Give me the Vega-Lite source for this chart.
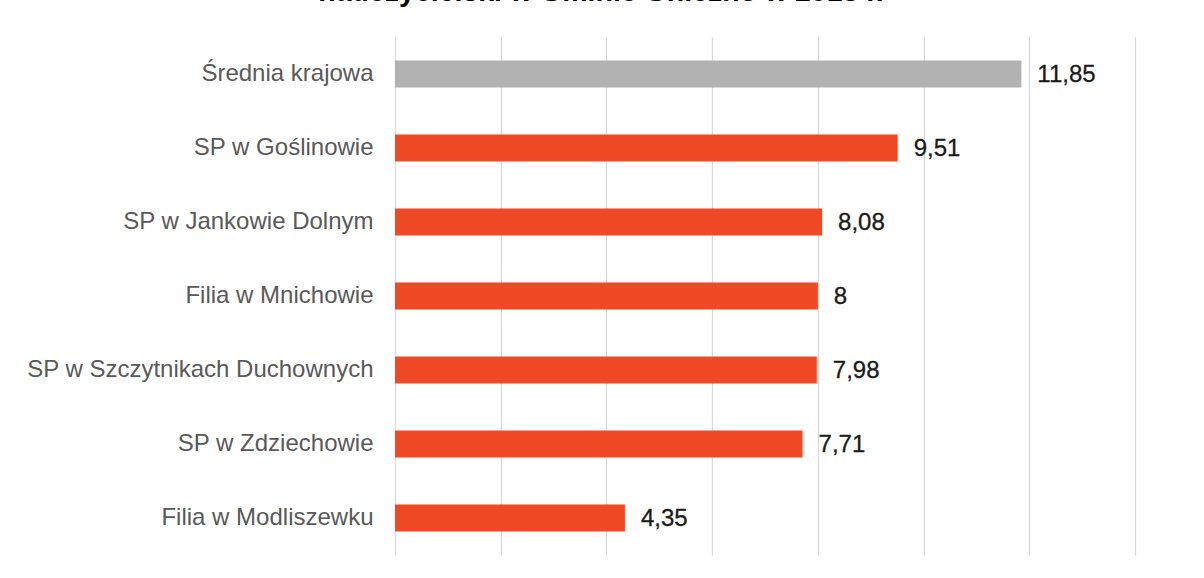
{
  "$schema": "https://vega.github.io/schema/vega-lite/v6.json",
  "width": 740,
  "height": 518,
  "autosize": "none",
  "padding": {"left": 395, "top": 37, "right": 69, "bottom": 23},
  "background": "white",
  "title": {
    "text": "nauczycielski w Gminie Gniezno w 2018 r.",
    "anchor": "middle",
    "dx": -164,
    "dy": -2,
    "offset": 0,
    "baseline": "bottom",
    "font": "Liberation Sans",
    "fontSize": 28.5,
    "fontWeight": "bold",
    "color": "#000000"
  },
  "config": {
    "view": {"stroke": null},
    "locale": {"number": {"decimal": ",", "thousands": " ", "grouping": [3], "currency": ["", " zł"]}}
  },
  "data": {
    "values": [
      {"name": "Średnia krajowa", "value": 11.85, "group": "avg"},
      {"name": "SP w Goślinowie", "value": 9.51, "group": "school"},
      {"name": "SP w Jankowie Dolnym", "value": 8.08, "group": "school"},
      {"name": "Filia w Mnichowie", "value": 8, "group": "school"},
      {"name": "SP w Szczytnikach Duchownych", "value": 7.98, "group": "school"},
      {"name": "SP w Zdziechowie", "value": 7.71, "group": "school"},
      {"name": "Filia w Modliszewku", "value": 4.35, "group": "school"}
    ]
  },
  "encoding": {
    "y": {
      "field": "name",
      "type": "nominal",
      "sort": null,
      "scale": {"paddingInner": 0.635, "paddingOuter": 0.3175},
      "axis": {
        "title": null,
        "domain": false,
        "ticks": false,
        "labelPadding": 22,
        "labelFont": "Liberation Sans",
        "labelFontSize": 24,
        "labelColor": "#595959",
        "labelLimit": 400
      }
    },
    "x": {
      "field": "value",
      "type": "quantitative",
      "scale": {"domain": [0, 14], "nice": false},
      "axis": {
        "title": null,
        "values": [0, 2, 4, 6, 8, 10, 12, 14],
        "labels": false,
        "domain": false,
        "ticks": false,
        "grid": true,
        "gridColor": "#d9d9d9",
        "gridWidth": 1.3
      }
    }
  },
  "layer": [
    {
      "mark": {"type": "bar"},
      "encoding": {
        "color": {
          "field": "group",
          "type": "nominal",
          "scale": {"domain": ["avg", "school"], "range": ["#b2b2b2", "#f04925"]},
          "legend": null
        }
      }
    },
    {
      "mark": {"type": "text", "align": "left", "baseline": "middle", "dx": 16, "dy": 1, "font": "Liberation Sans", "fontSize": 24, "color": "#1a1a1a", "stroke": "#1a1a1a", "strokeWidth": 0.3},
      "encoding": {
        "text": {"field": "value", "type": "quantitative", "format": "~g"}
      }
    }
  ]
}
